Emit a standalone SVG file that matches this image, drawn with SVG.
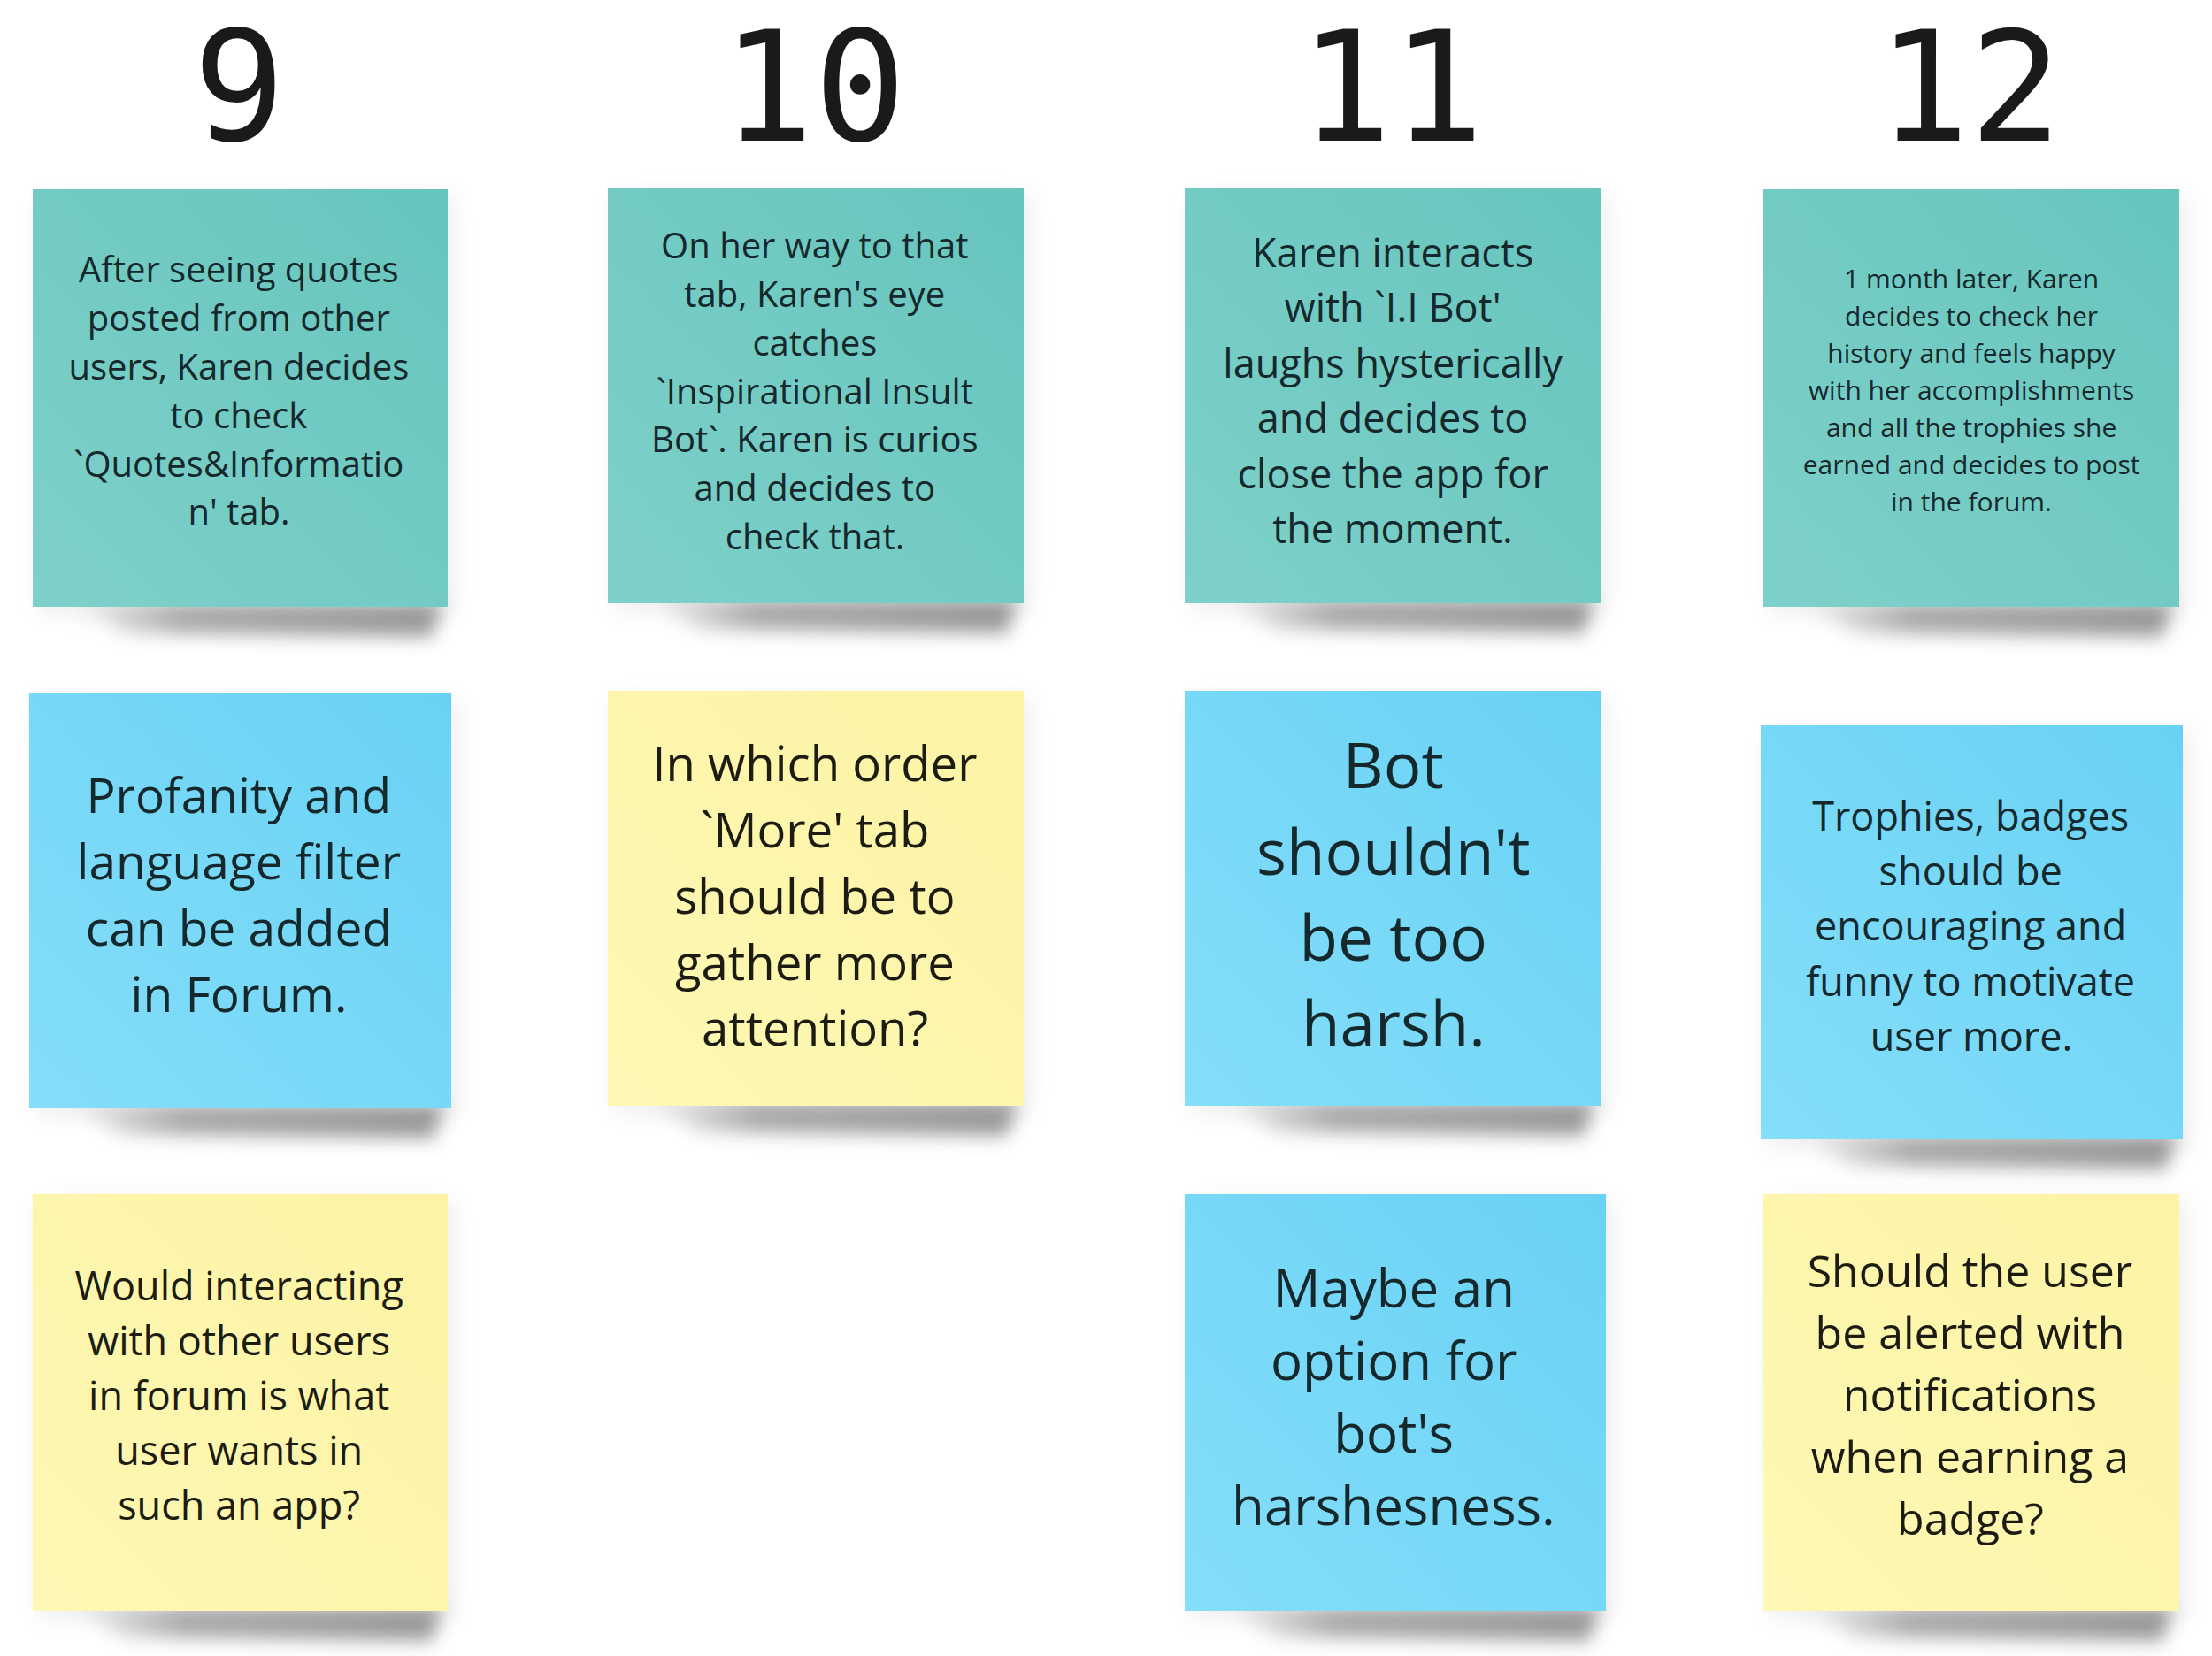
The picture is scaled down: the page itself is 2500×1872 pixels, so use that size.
<svg xmlns="http://www.w3.org/2000/svg" width="2500" height="1872" viewBox="0 0 2500 1872">
<defs>
<linearGradient id="gTeal" x1="1" y1="0" x2="0" y2="1">
<stop offset="0" stop-color="#67c5bd"/>
<stop offset="1" stop-color="#7ed1ca"/>
</linearGradient>
<linearGradient id="gBlue" x1="1" y1="0" x2="0" y2="1">
<stop offset="0" stop-color="#69d2f4"/>
<stop offset="1" stop-color="#85defa"/>
</linearGradient>
<linearGradient id="gYellow" x1="1" y1="0" x2="0" y2="1">
<stop offset="0" stop-color="#fcf3a4"/>
<stop offset="1" stop-color="#fdf8b4"/>
</linearGradient>
<linearGradient id="gShadow" x1="0" y1="0" x2="1" y2="0">
<stop offset="0" stop-color="#555" stop-opacity="0"/>
<stop offset="0.3" stop-color="#555" stop-opacity="0.8"/>
<stop offset="1" stop-color="#555" stop-opacity="1"/>
</linearGradient>
<filter id="fShadow" x="-20%" y="-100%" width="140%" height="300%">
<feGaussianBlur stdDeviation="10"/>
</filter>
<filter id="fHalo" x="-20%" y="-20%" width="140%" height="140%">
<feGaussianBlur stdDeviation="14"/>
</filter>
</defs>
<style>
.num{font-family:"DejaVu Sans Mono",monospace;font-size:173px;fill:#1a1a1a;text-anchor:middle}
.t{font-family:"Open Sans","Noto Sans",sans-serif;text-anchor:middle;fill:#15282b}
.ty{font-family:"Open Sans","Noto Sans",sans-serif;text-anchor:middle;fill:#1c1c12}
.sh{fill:url(#gShadow);opacity:0.6;filter:url(#fShadow)}
.halo{fill:#000;opacity:0.07;filter:url(#fHalo)}
.teal{fill:url(#gTeal)}
.blue{fill:url(#gBlue)}
.yellow{fill:url(#gYellow)}
</style>
<rect width="2500" height="1872" fill="#ffffff"/>

<g id="headers">
<text class="num" x="270" y="159">9</text>
<text class="num" x="920" y="159">10</text>
<text class="num" x="1573" y="159">11</text>
<text class="num" x="2226" y="159">12</text>
</g>

<g id="connectors"></g>

<g id="note-9a">
<rect class="halo" x="45" y="222" width="468" height="472"/>
<path class="sh" d="M80,682 L500,682 L488,720 L140,716 Z"/>
<rect class="teal" x="37" y="214" width="469" height="472"/>
<text class="t" font-size="40">
<tspan x="275" y="319">After seeing quotes</tspan>
<tspan x="275" y="374">posted from other</tspan>
<tspan x="275" y="429">users, Karen decides</tspan>
<tspan x="275" y="484">to check</tspan>
<tspan x="275" y="539">`Quotes&amp;Informatio</tspan>
<tspan x="270" y="593">n' tab.</tspan>
</text>
</g>

<g id="note-10a">
<rect class="halo" x="695" y="220" width="469" height="470"/>
<path class="sh" d="M730,678 L1150,678 L1138,716 L790,712 Z"/>
<rect class="teal" x="687" y="212" width="470" height="470"/>
<text class="t" font-size="40">
<tspan x="926" y="292">On her way to that</tspan>
<tspan x="926" y="347">tab, Karen's eye</tspan>
<tspan x="926" y="402">catches</tspan>
<tspan x="926" y="457">`Inspirational Insult</tspan>
<tspan x="926" y="511">Bot`. Karen is curios</tspan>
<tspan x="926" y="566">and decides to</tspan>
<tspan x="921" y="621">check that.</tspan>
</text>
</g>

<g id="note-11a">
<rect class="halo" x="1347" y="220" width="469" height="470"/>
<path class="sh" d="M1382,678 L1802,678 L1790,716 L1442,712 Z"/>
<rect class="teal" x="1339" y="212" width="470" height="470"/>
<text class="t" font-size="45">
<tspan x="1580" y="302">Karen interacts</tspan>
<tspan x="1580" y="364">with `I.I Bot'</tspan>
<tspan x="1580" y="427">laughs hysterically</tspan>
<tspan x="1580" y="489">and decides to</tspan>
<tspan x="1580" y="552">close the app for</tspan>
<tspan x="1574" y="614">the moment.</tspan>
</text>
</g>

<g id="note-12a">
<rect class="halo" x="2001" y="222" width="469" height="472"/>
<path class="sh" d="M2036,682 L2456,682 L2444,720 L2096,716 Z"/>
<rect class="teal" x="1993" y="214" width="470" height="472"/>
<text class="t" font-size="30">
<tspan x="2232" y="326">1 month later, Karen</tspan>
<tspan x="2232" y="368">decides to check her</tspan>
<tspan x="2232" y="410">history and feels happy</tspan>
<tspan x="2232" y="452">with her accomplishments</tspan>
<tspan x="2232" y="494">and all the trophies she</tspan>
<tspan x="2232" y="536">earned and decides to post</tspan>
<tspan x="2228" y="578">in the forum.</tspan>
</text>
</g>

<g id="note-9b">
<rect class="halo" x="41" y="791" width="476" height="470"/>
<path class="sh" d="M76,1249 L502,1249 L490,1287 L136,1283 Z"/>
<rect class="blue" x="33" y="783" width="477" height="470"/>
<text class="t" font-size="55">
<tspan x="277" y="919">Profanity and</tspan>
<tspan x="277" y="994">language filter</tspan>
<tspan x="277" y="1069">can be added</tspan>
<tspan x="270" y="1144">in Forum.</tspan>
</text>
</g>

<g id="note-10b">
<rect class="halo" x="695" y="789" width="469" height="469"/>
<path class="sh" d="M730,1246 L1150,1246 L1138,1284 L790,1280 Z"/>
<rect class="yellow" x="687" y="781" width="470" height="469"/>
<text class="ty" font-size="54.5">
<tspan x="928" y="883">In which order</tspan>
<tspan x="928" y="958">`More' tab</tspan>
<tspan x="928" y="1033">should be to</tspan>
<tspan x="928" y="1108">gather more</tspan>
<tspan x="921" y="1182">attention?</tspan>
</text>
</g>

<g id="note-11b">
<rect class="halo" x="1347" y="789" width="469" height="469"/>
<path class="sh" d="M1382,1246 L1802,1246 L1790,1284 L1442,1280 Z"/>
<rect class="blue" x="1339" y="781" width="470" height="469"/>
<text class="t" font-size="71">
<tspan x="1584" y="891">Bot</tspan>
<tspan x="1584" y="989">shouldn't</tspan>
<tspan x="1584" y="1086">be too</tspan>
<tspan x="1575" y="1183">harsh.</tspan>
</text>
</g>

<g id="note-12b">
<rect class="halo" x="1998" y="828" width="477" height="468"/>
<path class="sh" d="M2033,1284 L2460,1284 L2448,1322 L2093,1318 Z"/>
<rect class="blue" x="1990" y="820" width="477" height="468"/>
<text class="t" font-size="45">
<tspan x="2233" y="939">Trophies, badges</tspan>
<tspan x="2233" y="1001">should be</tspan>
<tspan x="2233" y="1063">encouraging and</tspan>
<tspan x="2233" y="1126">funny to motivate</tspan>
<tspan x="2228" y="1188">user more.</tspan>
</text>
</g>

<g id="note-9c">
<rect class="halo" x="45" y="1358" width="468" height="471"/>
<path class="sh" d="M80,1817 L500,1817 L488,1855 L140,1851 Z"/>
<rect class="yellow" x="37" y="1350" width="469" height="471"/>
<text class="ty" font-size="45">
<tspan x="276" y="1470">Would interacting</tspan>
<tspan x="276" y="1532">with other users</tspan>
<tspan x="276" y="1594">in forum is what</tspan>
<tspan x="276" y="1656">user wants in</tspan>
<tspan x="270" y="1718">such an app?</tspan>
</text>
</g>

<g id="note-11c">
<rect class="halo" x="1347" y="1358" width="476" height="471"/>
<path class="sh" d="M1382,1817 L1808,1817 L1796,1855 L1442,1851 Z"/>
<rect class="blue" x="1339" y="1350" width="476" height="471"/>
<text class="t" font-size="60">
<tspan x="1583" y="1478">Maybe an</tspan>
<tspan x="1583" y="1560">option for</tspan>
<tspan x="1583" y="1642">bot's</tspan>
<tspan x="1575" y="1724">harshesness.</tspan>
</text>
</g>

<g id="note-12c">
<rect class="halo" x="2001" y="1358" width="469" height="471"/>
<path class="sh" d="M2036,1817 L2456,1817 L2444,1855 L2096,1851 Z"/>
<rect class="yellow" x="1993" y="1350" width="470" height="471"/>
<text class="ty" font-size="50">
<tspan x="2233" y="1455">Should the user</tspan>
<tspan x="2233" y="1525">be alerted with</tspan>
<tspan x="2233" y="1595">notifications</tspan>
<tspan x="2233" y="1665">when earning a</tspan>
<tspan x="2227" y="1735">badge?</tspan>
</text>
</g>
</svg>
